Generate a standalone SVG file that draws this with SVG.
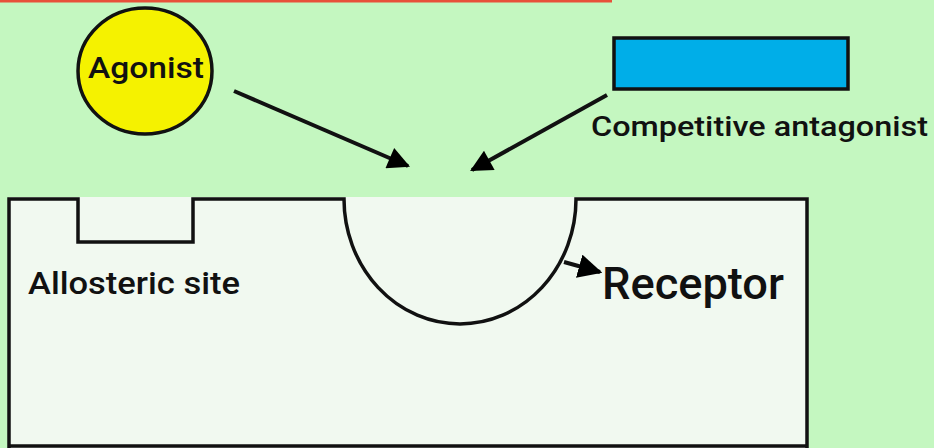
<svg xmlns="http://www.w3.org/2000/svg" width="934" height="448" viewBox="0 0 934 448">
<defs>
<marker id="ah" viewBox="0 0 10 10" refX="9" refY="5" markerWidth="6" markerHeight="5.5" orient="auto" markerUnits="strokeWidth">
<path d="M0,0 L10,5 L0,10 z" fill="#000"/>
</marker>
<marker id="ahs" viewBox="0 0 10 10" refX="9" refY="5" markerWidth="6" markerHeight="6" orient="auto" markerUnits="strokeWidth">
<path d="M0,0 L10,5 L0,10 z" fill="#000"/>
</marker>
</defs>
<style>
.ln{fill:none;stroke:#111;stroke-width:3.5;stroke-linejoin:miter}
.t{font-family:Roboto,"Liberation Sans",sans-serif;fill:#111;font-weight:500}
.arr{stroke:#111;stroke-width:4;fill:none}
</style>
<rect x="0" y="0" width="934" height="448" fill="#c4f7c0"/>
<rect x="0" y="0" width="612" height="2.5" fill="#e8503a"/>
<g id="receptor">
<rect x="9" y="197" width="799" height="252" fill="#f1f9f0"/>
<path class="ln" d="M9,449 L9,199 L78,199 L78,242 L193,242 L193,199 L344,199 A116,125 0 0 0 576,199 L807,199 L807,449"/>
<line class="ln" x1="9" y1="446" x2="807" y2="446"/>
<text class="t" x="602" y="299" font-size="44" textLength="182" lengthAdjust="spacingAndGlyphs">Receptor</text>
</g>
<g id="allosteric">
<text class="t" x="28" y="294" font-size="32" textLength="212" lengthAdjust="spacingAndGlyphs">Allosteric site</text>
</g>
<g id="agonist">
<ellipse cx="145" cy="71" rx="67" ry="63" fill="#f5f200" stroke="#111" stroke-width="3.5"/>
<text class="t" x="88" y="78" font-size="29" textLength="116" lengthAdjust="spacingAndGlyphs">Agonist</text>
</g>
<g id="antagonist">
<rect x="614" y="38" width="234" height="51" fill="#00aee8" stroke="#111" stroke-width="3.5"/>
<text class="t" x="591" y="136" font-size="28" textLength="337" lengthAdjust="spacingAndGlyphs">Competitive antagonist</text>
</g>
<g id="connectors">
<line class="arr" x1="234" y1="91" x2="408" y2="166" marker-end="url(#ah)"/>
<line class="arr" x1="607" y1="95" x2="472" y2="170" marker-end="url(#ah)"/>
<line class="arr" x1="564" y1="262" x2="600" y2="272" stroke-width="3" marker-end="url(#ahs)"/>
</g>
</svg>
